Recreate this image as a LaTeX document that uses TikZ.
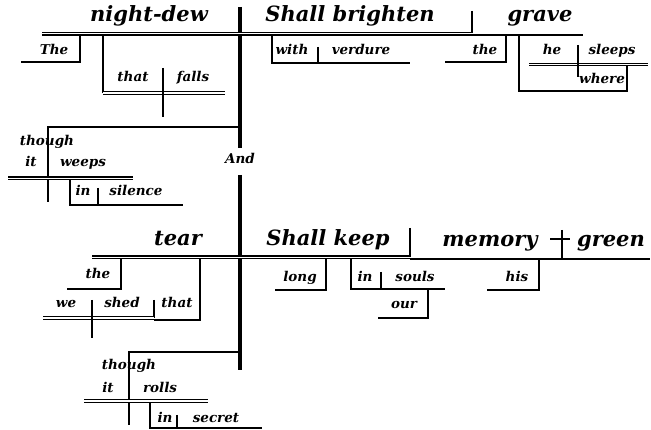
\documentclass[tikz,border=0pt]{standalone}
\usepackage{fontspec}
\setmainfont{DejaVu Serif}
\usepackage{tikz}
\tikzset{
  every picture/.style={line join=miter, line cap=butt},
  word/.style={anchor=base, inner sep=0pt, font=\fontsize{21}{21}\selectfont\bfseries\itshape},
  small/.style={anchor=base, inner sep=0pt, font=\fontsize{13.5}{13.5}\selectfont\bfseries\itshape},
  stem/.style={line width=3.6pt},
  heavy/.style={line width=2.8pt},
  rule/.style={line width=1.8pt},
  tick/.style={line width=1.4pt},
  base/.style={double, double distance=1.5pt, line width=1.1pt},
}

\begin{document}
\begin{tikzpicture}[x=1pt,y=-1pt]
\useasboundingbox(0,0) rectangle (651,430);
% first member
\node[word] (nightdew) at (149,22) {night-dew};
\node[word] (brighten) at (350,22) {Shall brighten};
\node[word] (grave) at (540,22) {grave};
\node[small] (the1) at (54,55) {The};
\node[small] (that1) at (133,82) {that};
\node[small] (falls) at (193,82) {falls};
\node[small] (with) at (292,55) {with};
\node[small] (verdure) at (361,55) {verdure};
\node[small] (the2) at (485,55) {the};
\node[small] (he) at (552,55) {he};
\node[small] (sleeps) at (612,55) {sleeps};
\node[small] (where) at (602,84) {where};
\draw[stem](240,7)--(240,148);
\draw[base](42,33.7)--(472,33.7);
\draw[tick](472,35)--(583,35)
(472,11)--(472,33);
\draw[rule](80,35)--(80,62)--(21,62)
(272,35)--(272,63)--(410,63)
(506,35)--(506,62)--(445,62)
(103,35)--(103,93)
(519,35)--(519,91)--(627,91)--(627,65);
\draw[tick](318,47)--(318,63);
\draw[base](103,93)--(225,93);
\draw[base](529,64.5)--(648,64.5);
\draw[heavy](163,68)--(163,117)
(578,45)--(578,77);
% though it weeps
\node[small] (though1) at (47,146) {though};
\node[small] (it1) at (31,167) {it};
\node[small] (weeps) at (83,167) {weeps};
\node[small] (in1) at (83,196) {in};
\node[small] (silence) at (136,196) {silence};
\draw[heavy](240,127)--(48,127)--(48,202);
\draw[base](8,178.3)--(133,178.3);
\draw[rule](70,180)--(70,205)--(183,205);
\draw[tick](98,188)--(98,205);
\node[small] (and) at (240,164) {And};
% second member
\draw[stem](240,175)--(240,370);
\node[word] (tear) at (178,246) {tear};
\node[word] (keep) at (328,246) {Shall keep};
\node[word] (memory) at (490,247) {memory};
\node[word] (green) at (611,247) {green};
\node[small] (the3) at (98,279) {the};
\node[small] (we) at (66,308) {we};
\node[small] (shed) at (122,308) {shed};
\node[small] (that2) at (177,308) {that};
\node[small] (long) at (300,282) {long};
\node[small] (in2) at (365,282) {in};
\node[small] (souls) at (415,282) {souls};
\node[small] (our) at (404,309) {our};
\node[small] (his) at (517,282) {his};
\draw[base](92,257.3)--(410,257.3);
\draw[tick](410,259)--(650,259)
(410,228)--(410,257)
(562,230)--(562,258)
(550,239)--(570,239);
\draw[rule](121,259)--(121,289)--(67,289)
(200,259)--(200,320)--(154,320)
(326,259)--(326,290)--(275,290)
(351,259)--(351,289)--(445,289)
(428,289)--(428,318)--(378,318)
(539,259)--(539,290)--(487,290);
\draw[tick](154,300)--(154,318)
(381,272)--(381,289);
\draw[base](43,318)--(154,318);
\draw[heavy](92,300)--(92,338);
% though it rolls
\node[small] (though2) at (129,370) {though};
\node[small] (it2) at (108,393) {it};
\node[small] (rolls) at (160,393) {rolls};
\node[small] (in3) at (165,422) {in};
\node[small] (secret) at (216,422) {secret};
\draw[heavy](240,352)--(129,352)--(129,425);
\draw[base](84,401)--(208,401);
\draw[rule](150,403)--(150,428)--(262,428);
\draw[tick](177,415)--(177,428);
\end{tikzpicture}
\end{document}
